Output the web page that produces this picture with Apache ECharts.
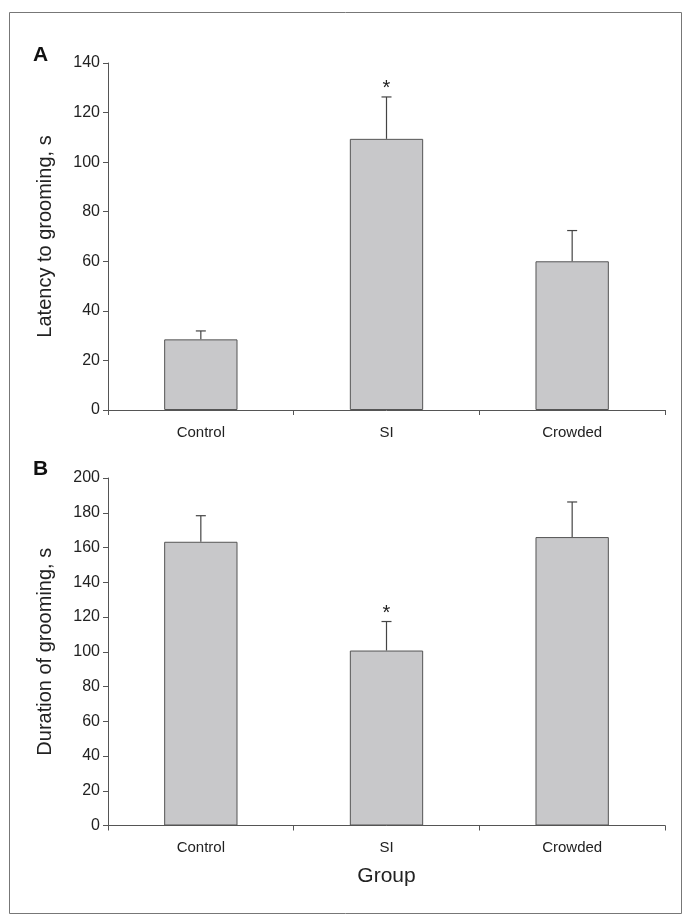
<!DOCTYPE html>
<html>
<head>
<meta charset="utf-8">
<script src="https://cdn.jsdelivr.net/npm/echarts@6/dist/echarts.min.js"></script>
<style>html,body{margin:0;padding:0;background:#fff}#c{width:690px;height:924px}</style>
</head>
<body>
<div id="c"></div>
<script>
var categories = ['Control', 'SI', 'Crowded'];
var latencyMean = [28.5, 109.4, 60];
var latencyErr = [3.4, 16.9, 12.4];
var latencySig = ['', '*', ''];
var durationMean = [163.3, 100.7, 166];
var durationErr = [15, 16.7, 20.2];
var durationSig = ['', '*', ''];
var latencyTicks = [0, 20, 40, 60, 80, 100, 120, 140];
var durationTicks = [0, 20, 40, 60, 80, 100, 120, 140, 160, 180, 200];

var FONT = '"Liberation Sans", Arial, sans-serif';
var AX = '#555';

function errData(mean, err, sig) {
  return mean.map(function (m, i) { return [i, m, m + err[i], sig[i]]; });
}
function errRender(params, api) {
  var x = api.value(0);
  var lo = api.coord([x, api.value(1)]);
  var hi = api.coord([x, api.value(2)]);
  var sig = api.value(3);
  var children = [
    {type: 'line', shape: {x1: lo[0], y1: lo[1], x2: hi[0], y2: hi[1]}, style: {stroke: '#444', lineWidth: 1.2}},
    {type: 'line', shape: {x1: hi[0] - 5, y1: hi[1], x2: hi[0] + 5, y2: hi[1]}, style: {stroke: '#444', lineWidth: 1.2}}
  ];
  if (sig) {
    children.push({type: 'text', x: hi[0], y: hi[1] + 2, style: {text: sig, fontSize: 20, fontFamily: FONT, fill: '#222', textAlign: 'center', textVerticalAlign: 'bottom'}});
  }
  return {type: 'group', children: children};
}

function yAxis(idx, max, interval, name) {
  return {
    type: 'value', gridIndex: idx, min: 0, max: max, interval: interval,
    name: name, nameLocation: 'middle', nameGap: 53,
    nameTextStyle: {fontFamily: FONT, fontSize: 20, color: '#222'},
    axisLine: {show: true, lineStyle: {color: AX, width: 1}},
    axisTick: {show: true, length: 5, lineStyle: {color: AX}},
    axisLabel: {fontFamily: FONT, fontSize: 16, color: '#222', margin: 8},
    splitLine: {show: false}
  };
}
function xAxis(idx, name) {
  return {
    type: 'category', gridIndex: idx, data: categories,
    name: name, nameLocation: 'middle', nameGap: 40,
    nameTextStyle: {fontFamily: FONT, fontSize: 21, color: '#222'},
    axisLine: {lineStyle: {color: AX, width: 1}},
    axisTick: {show: true, length: 5, lineStyle: {color: AX}},
    axisLabel: {fontFamily: FONT, fontSize: 15, color: '#222', margin: 15}
  };
}

var chart = echarts.init(document.getElementById('c'));
chart.setOption({
  backgroundColor: '#fff',
  animation: false,
  graphic: [
    {type: 'rect', shape: {x: 9.5, y: 12.5, width: 672, height: 901}, style: {fill: 'none', stroke: '#777', lineWidth: 1}},
    {type: 'text', left: 33, top: 45, style: {text: 'A', fontFamily: FONT, fontSize: 21, fontWeight: 'bold', fill: '#111'}},
    {type: 'text', left: 33, top: 459, style: {text: 'B', fontFamily: FONT, fontSize: 21, fontWeight: 'bold', fill: '#111'}}
  ],
  grid: [
    {left: 108, right: 25, top: 63, height: 347},
    {left: 108, right: 25, top: 478, height: 347.5}
  ],
  xAxis: [xAxis(0, ''), xAxis(1, 'Group')],
  yAxis: [yAxis(0, latencyTicks[latencyTicks.length - 1], latencyTicks[1] - latencyTicks[0], 'Latency to grooming, s'),
          yAxis(1, durationTicks[durationTicks.length - 1], durationTicks[1] - durationTicks[0], 'Duration of grooming, s')],
  series: [
    {type: 'bar', xAxisIndex: 0, yAxisIndex: 0, data: latencyMean, barWidth: '39.5%',
     itemStyle: {color: '#c8c8ca', borderColor: '#555', borderWidth: 1}},
    {type: 'custom', xAxisIndex: 0, yAxisIndex: 0, data: errData(latencyMean, latencyErr, latencySig), renderItem: errRender, z: 5},
    {type: 'bar', xAxisIndex: 1, yAxisIndex: 1, data: durationMean, barWidth: '39.5%',
     itemStyle: {color: '#c8c8ca', borderColor: '#555', borderWidth: 1}},
    {type: 'custom', xAxisIndex: 1, yAxisIndex: 1, data: errData(durationMean, durationErr, durationSig), renderItem: errRender, z: 5}
  ]
});
</script>
</body>
</html>
